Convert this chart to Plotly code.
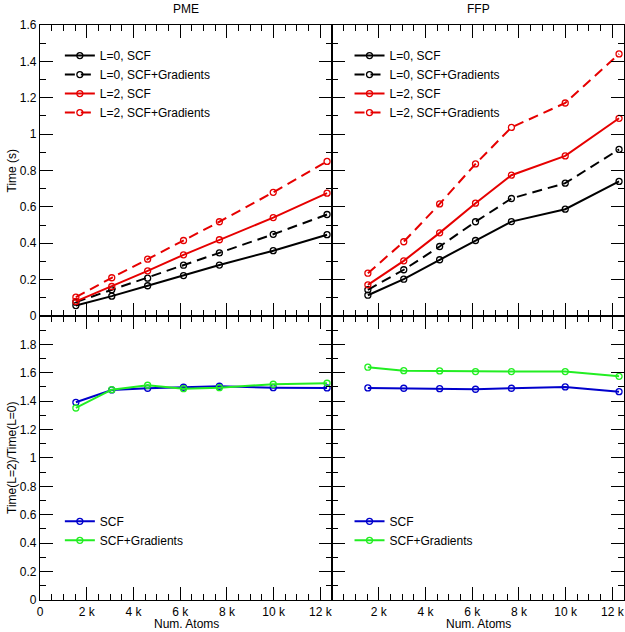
import plotly.graph_objects as go
from plotly.subplots import make_subplots

# ---------------- data ----------------
atoms = [1536, 3072, 4608, 6144, 7680, 9984, 12288]

pme_l0_scf = [0.057, 0.109, 0.166, 0.222, 0.280, 0.359, 0.447]
pme_l0_grad = [0.076, 0.144, 0.208, 0.279, 0.347, 0.449, 0.558]
pme_l2_scf = [0.080, 0.162, 0.248, 0.336, 0.419, 0.541, 0.675]
pme_l2_grad = [0.103, 0.210, 0.312, 0.415, 0.518, 0.680, 0.850]

ffp_l0_scf = [0.114, 0.202, 0.309, 0.415, 0.519, 0.587, 0.740]
ffp_l0_grad = [0.144, 0.254, 0.382, 0.518, 0.646, 0.730, 0.916]
ffp_l2_scf = [0.171, 0.303, 0.457, 0.620, 0.774, 0.880, 1.087]
ffp_l2_grad = [0.235, 0.408, 0.616, 0.836, 1.037, 1.171, 1.441]

pme_ratio_scf = [1.392, 1.479, 1.491, 1.498, 1.505, 1.495, 1.493]
pme_ratio_grad = [1.352, 1.481, 1.512, 1.488, 1.495, 1.519, 1.526]
ffp_ratio_scf = [1.493, 1.491, 1.488, 1.484, 1.491, 1.500, 1.467]
ffp_ratio_grad = [1.639, 1.615, 1.613, 1.608, 1.608, 1.608, 1.575]

top_names = ["L=0, SCF", "L=0, SCF+Gradients", "L=2, SCF", "L=2, SCF+Gradients"]
bottom_names = ["SCF", "SCF+Gradients"]
panel_titles = ["PME", "FFP"]

x_tickvals_left = [0, 2000, 4000, 6000, 8000, 10000, 12000]
x_ticktext_left = ["0", "2 k", "4 k", "6 k", "8 k", "10 k", "12 k"]
x_tickvals_right = [2000, 4000, 6000, 8000, 10000, 12000]
x_ticktext_right = ["2 k", "4 k", "6 k", "8 k", "10 k", "12 k"]
y_top_ticks = [0, 0.2, 0.4, 0.6, 0.8, 1.0, 1.2, 1.4, 1.6]
y_top_text = ["0", "0.2", "0.4", "0.6", "0.8", "1", "1.2", "1.4", "1.6"]
y_bot_ticks = [0, 0.2, 0.4, 0.6, 0.8, 1.0, 1.2, 1.4, 1.6, 1.8]
y_bot_text = ["0", "0.2", "0.4", "0.6", "0.8", "1", "1.2", "1.4", "1.6", "1.8"]

# ---------------- styles ----------------
FONT = "Liberation Sans, Arial, Helvetica, sans-serif"
BLACK = "#000000"
RED = "#e60000"
BLUE = "#0000cc"
GREEN = "#22ee22"
DASH = "10px,6px"

fig = make_subplots(rows=2, cols=2, horizontal_spacing=0, vertical_spacing=0)

top_series = {
    1: [pme_l0_scf, pme_l0_grad, pme_l2_scf, pme_l2_grad],
    2: [ffp_l0_scf, ffp_l0_grad, ffp_l2_scf, ffp_l2_grad],
}
top_styles = [(BLACK, "solid"), (BLACK, DASH), (RED, "solid"), (RED, DASH)]
bot_series = {
    1: [pme_ratio_scf, pme_ratio_grad],
    2: [ffp_ratio_scf, ffp_ratio_grad],
}
bot_styles = [(BLUE, "solid"), (GREEN, "solid")]

legend_ids = {(1, 1): "legend", (1, 2): "legend2", (2, 1): "legend3", (2, 2): "legend4"}

for col in (1, 2):
    for vals, name, (c, d) in zip(top_series[col], top_names, top_styles):
        fig.add_trace(go.Scatter(
            x=atoms, y=vals, name=name, mode="lines+markers",
            line=dict(color=c, width=2, dash=d),
            marker=dict(symbol="circle-open", size=6, color=c, line=dict(width=1.3, color=c)),
            legend=legend_ids[(1, col)],
        ), row=1, col=col)
    for vals, name, (c, d) in zip(bot_series[col], bottom_names, bot_styles):
        fig.add_trace(go.Scatter(
            x=atoms, y=vals, name=name, mode="lines+markers",
            line=dict(color=c, width=2, dash=d),
            marker=dict(symbol="circle-open", size=6, color=c, line=dict(width=1.3, color=c)),
            legend=legend_ids[(2, col)],
        ), row=2, col=col)

axis_common = dict(
    showline=True, linecolor="black", linewidth=1.2, mirror="ticks",
    ticks="inside", ticklen=13, tickwidth=1.3, tickcolor="black",
    showgrid=False, zeroline=False,
    tickfont=dict(family=FONT, size=12, color="black"),
)

XR = [0, 12500]
for r in (1, 2):
    for c in (1, 2):
        xa = dict(axis_common, range=XR,
                  minor=dict(dtick=500, tick0=0, ticks="inside", ticklen=6, tickwidth=1.3, tickcolor="black"))
        if r == 1:
            xa.update(showticklabels=False, tickvals=x_tickvals_left)
        else:
            if c == 1:
                xa.update(tickvals=x_tickvals_left, ticktext=x_ticktext_left)
            else:
                xa.update(tickvals=x_tickvals_right, ticktext=x_ticktext_right)
        fig.update_xaxes(row=r, col=c, **xa)

        if r == 1:
            ya = dict(axis_common, range=[0, 1.6], tickvals=y_top_ticks, ticktext=y_top_text,
                      minor=dict(dtick=0.1, tick0=0, ticks="inside", ticklen=6, tickwidth=1.3, tickcolor="black"))
        else:
            ya = dict(axis_common, range=[0, 2.0], tickvals=y_bot_ticks + [2.0], ticktext=y_bot_text + [""],
                      minor=dict(dtick=0.1, tick0=0, ticks="inside", ticklen=6, tickwidth=1.3, tickcolor="black"))
        if c == 2:
            ya["showticklabels"] = False
        fig.update_yaxes(row=r, col=c, **ya)

# explicit domains: top panel taller (pixel layout of reference)
ysplit = 0.494
for ax in ("yaxis", "yaxis2"):
    fig.layout[ax].domain = [ysplit, 1.0]
for ax in ("yaxis3", "yaxis4"):
    fig.layout[ax].domain = [0.0, ysplit]
for ax in ("xaxis", "xaxis3"):
    fig.layout[ax].domain = [0.0, 0.5]
for ax in ("xaxis2", "xaxis4"):
    fig.layout[ax].domain = [0.5, 1.0]

leg_common = dict(font=dict(family=FONT, size=12, color="black"), bgcolor="rgba(0,0,0,0)",
                  borderwidth=0, xanchor="left", yanchor="top", itemwidth=30, tracegroupgap=0)
fig.update_layout(
    width=625, height=632,
    margin=dict(l=40, r=1, t=25, b=32),
    paper_bgcolor="white", plot_bgcolor="white",
    font=dict(family=FONT, size=12, color="black"),
    showlegend=True,
    legend=dict(leg_common, x=0.034, y=0.972),
    legend2=dict(leg_common, x=0.530, y=0.972),
    legend3=dict(leg_common, x=0.034, y=0.162),
    legend4=dict(leg_common, x=0.530, y=0.162),
)

ann_font = dict(family=FONT, size=12, color="black")
annotations = [
    dict(text=panel_titles[0], x=0.25, y=1.0, xref="paper", yref="paper", yshift=16,
         xanchor="center", yanchor="middle", showarrow=False, font=ann_font),
    dict(text=panel_titles[1], x=0.75, y=1.0, xref="paper", yref="paper", yshift=16,
         xanchor="center", yanchor="middle", showarrow=False, font=ann_font),
    dict(text="Num. Atoms", x=0.25, y=0, xref="paper", yref="paper", yshift=-24,
         xanchor="center", yanchor="middle", showarrow=False, font=ann_font),
    dict(text="Num. Atoms", x=0.75, y=0, xref="paper", yref="paper", yshift=-24,
         xanchor="center", yanchor="middle", showarrow=False, font=ann_font),
    dict(text="Time (s)", x=0, y=(1 + ysplit) / 2, xref="paper", yref="paper", xshift=-28,
         xanchor="center", yanchor="middle", showarrow=False, textangle=-90, font=ann_font),
    dict(text="Time(L=2)/Time(L=0)", x=0, y=ysplit / 2, xref="paper", yref="paper", xshift=-28,
         xanchor="center", yanchor="middle", showarrow=False, textangle=-90, font=ann_font),
]
fig.update_layout(annotations=annotations)

fig.write_html(
    "out.html",
    config={"displayModeBar": False},
    post_script="document.body.style.margin='0px';document.body.style.padding='0px';"
                "document.body.style.overflow='hidden';",
)
